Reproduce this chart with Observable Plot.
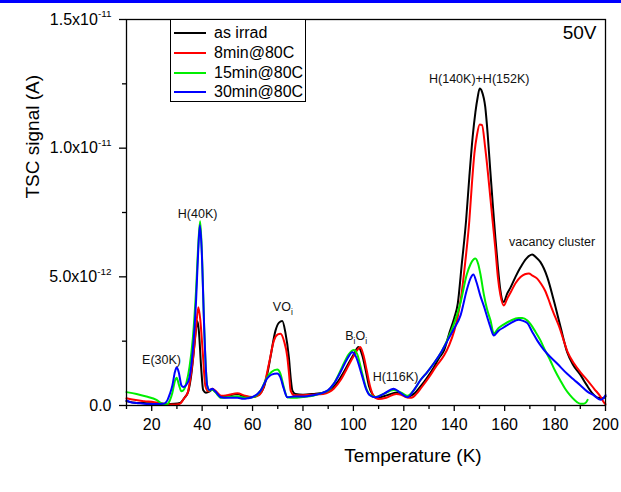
<!DOCTYPE html>
<html><head><meta charset="utf-8">
<script src="https://cdn.jsdelivr.net/npm/d3@7"></script>
<script src="https://cdn.jsdelivr.net/npm/@observablehq/plot@0.6"></script>
<style>
body{margin:0;background:#fff;font-family:"Liberation Sans",Arial,sans-serif;}
#wrap{position:relative;width:621px;height:492px;overflow:hidden;background:#fff}
#bar{position:absolute;left:0;top:0;width:621px;height:3px;background:#0000ff}
#legend{position:absolute;left:170px;top:19px;width:136px;height:83px;border:1px solid #000;background:#fff;box-sizing:border-box}
.row{position:absolute;left:0;height:20px;width:136px}
.sw{position:absolute;left:3px;top:9px;width:32px;height:2px}
.lt{position:absolute;left:43px;top:1px;font-size:16px;line-height:18px;color:#000;white-space:nowrap}
</style></head>
<body>
<div id="wrap"><div id="bar"></div><div id="chart"></div><div id="legend"></div></div>
<script>
// Temperature (K), TSC signal in units of 1e-12 A
const seriesNames = ["as irrad", "8min@80C", "15min@80C", "30min@80C"];
const seriesColors = ["#000000", "#ff0000", "#00ee00", "#0000ff"];

const asIrrad = [[10,0.16],[14,0.1],[18,0.09],[22,0.08],[26,0.06],[29,0.07],[31.2,0.1],[33,0.3],[34.5,0.55],[35.7,1.2],[37,2.4],[37.6,3.0],[38.1,3.28],[38.7,2.9],[39.6,1.5],[40.4,0.6],[41.5,0.5],[43,0.55],[44,0.62],[45.2,0.55],[47.5,0.35],[50,0.38],[54,0.45],[57,0.35],[60,0.33],[62.5,0.42],[64.5,0.71],[66,1.3],[67.1,1.88],[69.1,2.91],[70.5,3.22],[71.8,3.28],[73,2.85],[74.4,1.88],[75.2,1.0],[75.8,0.58],[77,0.45],[80,0.42],[84,0.45],[88,0.5],[91,0.62],[94,0.95],[96.5,1.35],[99,1.8],[100.5,2.05],[102,2.27],[103.5,1.95],[104.9,1.36],[106.2,0.75],[107.5,0.45],[109,0.3],[111,0.33],[114,0.42],[117,0.5],[119,0.45],[121.5,0.35],[124,0.45],[126.7,0.75],[129,1.05],[132,1.5],[134,1.85],[136,2.15],[138,2.8],[140,3.4],[141.4,3.96],[143,5.5],[144.7,7.19],[146,8.9],[147.3,10.43],[148.4,11.4],[149.3,11.98],[150.1,12.32],[151,12.2],[152.3,11.6],[153.3,10.5],[154.3,9.13],[155.3,7.8],[156.3,6.54],[157.3,5.4],[158.3,4.47],[159.6,4.02],[161,4.35],[162.4,4.6],[164.3,5.0],[166.3,5.37],[168.5,5.7],[170.9,5.87],[172.5,5.75],[174.2,5.57],[176.9,4.99],[179.5,4.08],[182.2,3.04],[184.8,2.07],[187,1.6],[190,1.2],[192.5,0.8],[195,0.45],[197,0.3],[199,0.28],[200,0.35]];

const min8 = [[10,0.28],[13,0.22],[17,0.17],[21,0.13],[25,0.06],[28,0.04],[31,0.06],[33,0.3],[34.3,0.5],[35.2,0.97],[36.3,1.75],[37.6,3.04],[38.5,3.82],[39.3,3.3],[40.2,2.14],[41.3,0.75],[42.5,0.55],[44,0.65],[45.2,0.58],[47.5,0.38],[50,0.4],[54,0.48],[57,0.38],[60,0.33],[62.5,0.4],[64.5,0.75],[66.5,1.62],[68.5,2.53],[70,2.76],[71.1,2.79],[72.5,2.5],[73.8,1.88],[74.5,1.2],[75.1,0.58],[76.5,0.4],[80,0.4],[84,0.42],[88,0.45],[92.2,0.65],[95,1.0],[97.5,1.45],[100,1.9],[101.5,2.15],[102.7,2.27],[104,1.95],[105.3,1.36],[106.6,0.75],[108,0.38],[110,0.25],[113,0.3],[117,0.45],[119,0.42],[121,0.32],[123,0.3],[125,0.45],[127,0.7],[130,1.1],[133,1.55],[136,1.95],[138,2.35],[140,2.9],[141.5,3.5],[142.7,4.2],[144.4,5.6],[146,7.2],[147,8.6],[148,9.8],[149,10.5],[150.1,10.92],[151,10.9],[152.3,10.0],[153.3,9.1],[154.3,8.1],[155.3,7.1],[156.3,6.1],[157.3,5.0],[158.3,4.3],[159.7,3.89],[161,4.15],[162.4,4.4],[164.3,4.75],[166.3,4.99],[168,5.1],[169.6,5.13],[171,5.05],[172.9,4.93],[174.5,4.72],[176,4.47],[177.5,4.1],[178.5,3.82],[180,3.45],[181.7,3.04],[183.5,2.5],[185,2.07],[187.6,1.62],[190,1.3],[192.9,0.97],[195.5,0.65],[198.2,0.32],[199.5,0.1],[200,0.05]];

const min15 = [[10,0.52],[14,0.45],[17.9,0.35],[21.9,0.22],[24.5,0.06],[26,0.05],[27.2,0.2],[28.2,0.5],[29.2,0.95],[29.9,1.08],[30.8,0.8],[31.8,0.55],[32.8,0.62],[33.8,0.9],[35,1.5],[36.3,2.6],[37.6,4.5],[38.5,6.3],[39.2,7.16],[39.8,6.2],[40.9,2.8],[41.5,1.4],[42,0.78],[43,0.58],[44,0.62],[45.2,0.52],[47.5,0.3],[50,0.32],[54,0.36],[57,0.3],[60,0.32],[63.2,0.58],[65.8,1.1],[67.5,1.3],[69.8,1.4],[71,1.25],[72.4,0.71],[73.8,0.32],[76.4,0.3],[80,0.33],[84,0.38],[88,0.5],[90,0.58],[92.2,0.84],[94.9,1.36],[98.2,2.0],[100.2,2.16],[101.5,2.0],[103.5,1.24],[105,0.7],[106.5,0.42],[108.8,0.33],[112,0.45],[116,0.6],[119,0.5],[121.5,0.38],[124,0.6],[126.7,1.0],[129.3,1.3],[132,1.65],[135,2.1],[137.5,2.6],[140,3.2],[142.5,4.0],[145,5.1],[146.5,5.5],[148.4,5.71],[149.5,5.5],[150.4,5.1],[151.7,4.34],[153,3.75],[154.4,3.3],[155.7,2.8],[157.5,3.0],[159.7,3.15],[162.4,3.3],[165.6,3.4],[167,3.4],[169,3.3],[170.2,3.17],[172,2.9],[174.2,2.53],[176,2.15],[178.1,1.75],[180,1.35],[182.1,0.97],[184,0.65],[186,0.39],[188.7,0.13],[190,0.07],[191.3,0.07],[192.3,0.12],[192.9,0.22]];

const min30 = [[10,0.2],[12,0.12],[14,0.1],[18,0.06],[22,0.06],[25,0.08],[26.2,0.2],[27.2,0.45],[28.2,0.78],[29.2,1.3],[29.9,1.49],[30.7,1.3],[31.8,0.78],[32.6,0.72],[33.7,0.8],[35,1.1],[36.3,2.14],[37.6,4.08],[38.4,5.9],[39.1,7.0],[39.7,6.3],[40.9,2.8],[41.5,1.4],[42,0.78],[43,0.6],[44,0.65],[45.2,0.55],[47.5,0.32],[50,0.3],[54,0.3],[56.3,0.26],[58,0.28],[60,0.33],[63.2,0.58],[65.8,1.05],[67.5,1.2],[69.8,1.24],[71,1.1],[72.4,0.65],[73.8,0.32],[76.4,0.35],[80,0.35],[84,0.4],[88,0.5],[90,0.6],[92.2,0.84],[94.9,1.3],[97.5,1.8],[99.6,2.07],[101,1.9],[103.3,1.2],[105,0.65],[106.5,0.4],[108.8,0.32],[112,0.45],[116,0.65],[118.5,0.5],[121.4,0.32],[124,0.6],[126.7,1.0],[129.3,1.3],[132,1.65],[135,2.1],[137.5,2.55],[140,3.0],[142.5,3.5],[145,4.5],[146.5,4.95],[147.6,5.09],[148.8,4.8],[150.4,4.25],[151.8,3.85],[153.1,3.43],[154.5,3.0],[155.7,2.72],[157.5,2.9],[159.7,3.04],[162.4,3.2],[165.6,3.33],[167,3.3],[169,3.2],[171,2.85],[172.9,2.53],[174.5,2.3],[176.9,2.01],[180.9,1.62],[184.8,1.23],[187.5,1.0],[190.1,0.78],[192.7,0.55],[195.4,0.39],[198,0.22],[199.3,0.3],[200,0.4]];

const seriesData = [asIrrad, min8, min15, min30];

const xMajor = [20, 40, 60, 80, 100, 120, 140, 160, 180, 200];
const xMinor = [10, 30, 50, 70, 90, 110, 130, 150, 170, 190];
const yMajor = [0, 5, 10, 15];
const yMinor = [2.5, 7.5, 12.5];
const yTickLabels = ["0.0", "5.0x10^-12", "1.0x10^-11", "1.5x10^-11"];

const annLabels = ["E(30K)", "H(40K)", "VO_i", "B_iO_i", "H(116K)", "H(140K)+H(152K)", "vacancy cluster"];
const annT = [23.9, 38.2, 72.0, 101.1, 116.7, 149.9, 178.8];
const annV = [1.75, 7.44, 3.82, 2.72, 1.1, 12.67, 6.37];

const font = "Liberation Sans, Arial, sans-serif";

const rowsOf = (pts, name) => pts.map(([T, v]) => ({T, v, series: name}));

const lineMarks = seriesData.map((pts, i) =>
  Plot.line(rowsOf(pts, seriesNames[i]), {x: "T", y: "v", stroke: seriesColors[i], strokeWidth: 2, curve: "monotone-x"})
);

const ann = annLabels.map((label, i) => ({label, T: annT[i], v: annV[i]}));

const chart = Plot.plot({
  width: 621, height: 492,
  marginLeft: 126, marginRight: 16, marginTop: 19, marginBottom: 87,
  style: {fontFamily: font, background: "transparent", color: "#000", overflow: "visible"},
  x: {domain: [10, 200]},
  y: {domain: [0, 15]},
  marks: [
    Plot.axisX({ticks: xMajor, tickSize: 6, tickPadding: 7, fontSize: 16, strokeWidth: 1.3, tickFormat: d => String(d), label: null}),
    Plot.axisX({ticks: xMinor, tickSize: 4, strokeWidth: 1.3, tickFormat: () => "", label: null}),
    Plot.axisY({ticks: yMajor, tickSize: 7, tickPadding: 8, fontSize: 16, strokeWidth: 1.3, tickFormat: d => yTickLabels[yMajor.indexOf(d)], label: null}),
    Plot.axisY({ticks: yMinor, tickSize: 4, strokeWidth: 1.3, tickFormat: () => "", label: null}),
    ...lineMarks,
    Plot.frame({stroke: "#000", strokeWidth: 1.3}),
    Plot.text(ann, {x: "T", y: "v", text: "label", fontSize: 12.5, fill: "#111", textAnchor: "middle", lineAnchor: "middle"}),
    Plot.text(["50V"], {frameAnchor: "top-right", dx: -9, dy: 13, fontSize: 19, textAnchor: "end", lineAnchor: "middle", fill: "#000"}),
    Plot.text(["Temperature (K)"], {frameAnchor: "bottom", dx: 47, dy: 50, fontSize: 19, lineAnchor: "middle", fill: "#000"}),
    Plot.text(["TSC signal (A)"], {frameAnchor: "left", dx: -94, dy: -14, rotate: -90, fontSize: 19, lineAnchor: "middle", fill: "#000"})
  ]
});

document.getElementById("chart").appendChild(chart);

// sub/superscripts
const NS = "http://www.w3.org/2000/svg";
d3.select(chart).selectAll("text").each(function() {
  const el = this;
  if (el.querySelector("tspan")) return;
  const s = el.textContent;
  if (!/[\^_]/.test(s)) return;
  const fs = parseFloat(getComputedStyle(el).fontSize) || 12;
  el.textContent = "";
  let shift = 0;
  const add = (str, target, size) => {
    const t = document.createElementNS(NS, "tspan");
    t.setAttribute("dy", target - shift);
    shift = target;
    if (size) t.setAttribute("font-size", size);
    t.textContent = str;
    el.appendChild(t);
  };
  let buf = "", i = 0;
  while (i < s.length) {
    const c = s[i];
    if (c === "^") { if (buf) { add(buf, 0); buf = ""; } add(s.slice(i + 1), -0.45 * fs, 0.62 * fs); i = s.length; }
    else if (c === "_") { if (buf) { add(buf, 0); buf = ""; } add(s[i + 1], 0.32 * fs, 0.68 * fs); i += 2; }
    else { buf += c; i++; }
  }
  if (buf) add(buf, 0);
});

// legend
const legend = document.getElementById("legend");
const rowTops = [3, 23, 42.5, 62];
seriesNames.forEach((name, i) => {
  const row = document.createElement("div");
  row.className = "row";
  row.style.top = rowTops[i] + "px";
  const sw = document.createElement("div");
  sw.className = "sw";
  sw.style.background = seriesColors[i];
  const lt = document.createElement("div");
  lt.className = "lt";
  lt.textContent = name;
  row.appendChild(sw); row.appendChild(lt);
  legend.appendChild(row);
});
</script>
</body></html>
